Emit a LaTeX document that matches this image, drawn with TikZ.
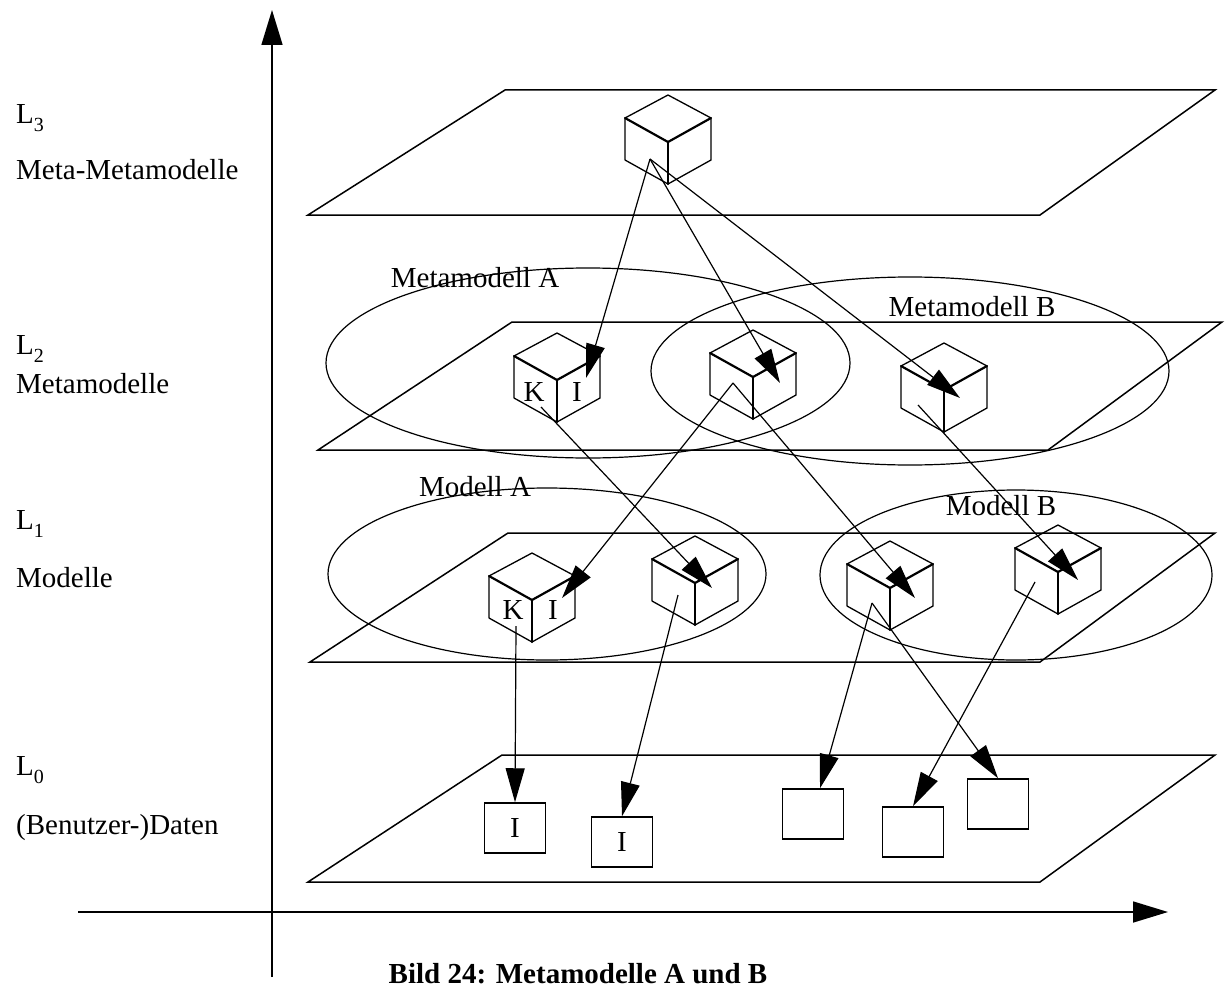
\documentclass[tikz,border=0pt]{standalone}
\usepackage{fontspec}
\setmainfont{Liberation Serif}
\usetikzlibrary{arrows.meta}
\newcommand\lsub[1]{L\raisebox{-8pt}{\fontsize{20}{22}\selectfont #1}}
\newcommand\drawcubeat[1]{%
  \draw[cubeedge, shift={(#1)}] (0,-47) -- (43,-24) -- (43,18) -- (0,42) -- (-43,18) -- (-43,-24) -- cycle;
  \draw[cubefront, shift={(#1)}] (-43,-24) -- (0,0) -- (43,-24);
  \draw[cubefront, shift={(#1)}] (0,0) -- (0,42);
}
\tikzset{
  plane/.style={draw, line width=1.5pt},
  oval/.style={draw, line width=1.2pt},
  cubeedge/.style={draw, line width=1.3pt, line join=round},
  cubefront/.style={draw, line width=2.2pt, line cap=round},
  conn/.style={line width=1.2pt, -{Triangle[length=34pt,width=19pt]}},
  axis/.style={line width=1.6pt, -{Triangle[length=35pt,width=21pt]}},
  lbl/.style={font=\fontsize{29}{33}\selectfont, inner sep=0pt},
  sidelbl/.style={lbl, anchor=west},
  databox/.style={draw, line width=1.5pt, minimum width=61pt, minimum height=50pt, inner sep=0pt, font=\fontsize{29}{33}\selectfont},
}
\begin{document}
\begin{tikzpicture}[x=1pt,y=-1pt]
\useasboundingbox (0,0) rectangle (1225,987);
\clip (0,0) rectangle (1225,987);
\fill[white] (0,0) rectangle (1225,987);

% axes
\coordinate (vbot) at (272,977);
\coordinate (vtop) at (272,10);
\coordinate (hleft) at (78,912);
\coordinate (hright) at (1168,912);
\draw[axis] (vbot) -- (vtop);
\draw[axis] (hleft) -- (hright);

% planes
\draw[plane] (308,215) -- (1040,215) -- (1215,90) -- (505,90) -- cycle;
\draw[plane] (318,450) -- (1048,450) -- (1222,322) -- (512,322) -- cycle;
\draw[plane] (310,662) -- (1040,662) -- (1215,533) -- (508,533) -- cycle;
\draw[plane] (308,882) -- (1040,882) -- (1215,755) -- (502,755) -- cycle;

% ellipses
\draw[oval] (588,363) ellipse [x radius=262, y radius=95];
\draw[oval] (910,371) ellipse [x radius=259, y radius=94];
\draw[oval] (547,574) ellipse [x radius=219, y radius=86];
\draw[oval] (1016,575) ellipse [x radius=196, y radius=85];

% cube positions (front vertex)
\coordinate (c3) at (668,142);
\coordinate (c2a) at (557,380);
\coordinate (c2m) at (753,377);
\coordinate (c2b) at (944,390);
\coordinate (c1a) at (532,600);
\coordinate (c1m) at (695,583);
\coordinate (c1b) at (890,588);
\coordinate (c1c) at (1058,572);
\drawcubeat{c3}
\drawcubeat{c2a}
\drawcubeat{c2m}
\drawcubeat{c2b}
\drawcubeat{c1a}
\drawcubeat{c1m}
\drawcubeat{c1b}
\drawcubeat{c1c}

% cube letters
\node[lbl] (k2) at (534,392) {K};
\node[lbl] (i2) at (577,392) {I};
\node[lbl] (k1) at (513,610) {K};
\node[lbl] (i1) at (553,610) {I};

% data boxes
\node[databox] (b1) at (515,828) {I};
\node[databox] (b2) at (622,842) {I};
\node[databox] (b3) at (813,814) {};
\node[databox] (b4) at (913,832) {};
\node[databox] (b5) at (998,804) {};

% connector end points
\coordinate (s3) at (650,159);
\coordinate (t2a) at (586,378);
\coordinate (t2m) at (780,383);
\coordinate (t2b) at (960,398);
\coordinate (s2a) at (541,407);
\coordinate (s2m) at (733,383);
\coordinate (s2b) at (918,405);
\coordinate (t1a) at (562,598);
\coordinate (t1m) at (712,588);
\coordinate (t1b) at (915,598);
\coordinate (t1c) at (1078,580);
\coordinate (s1a) at (516,626);
\coordinate (s1m) at (678,595);
\coordinate (s1b) at (872,603);
\coordinate (s1c) at (1035,582);

\draw[conn] (s3) -- (t2a);
\draw[conn] (s3) -- (t2m);
\draw[conn] (s3) -- (t2b);
\draw[conn] (s2a) -- (t1m);
\draw[conn] (s2m) -- (t1a);
\draw[conn] (s2m) -- (t1b);
\draw[conn] (s2b) -- (t1c);
\draw[conn] (s1a) -- (b1.north);
\draw[conn] (s1m) -- (b2.north);
\draw[conn] (s1b) -- ([xshift=7pt]b3.north);
\draw[conn] (s1b) -- (b5.north);
\draw[conn] (s1c) -- (b4.north);

% labels in ellipses
\node[lbl] (mma) at (475,278) {Metamodell A};
\node[lbl] (mmb) at (972,307) {Metamodell B};
\node[lbl] (ma) at (475,487) {Modell A};
\node[lbl] (mb) at (1001,506) {Modell B};

% side labels
\node[sidelbl] (l3) at (16,118) {\lsub{3}};
\node[sidelbl] (l3t) at (16,170) {Meta-Metamodelle};
\node[sidelbl] (l2) at (16,349) {\lsub{2}};
\node[sidelbl] (l2t) at (16,384) {Metamodelle};
\node[sidelbl] (l1) at (16,524) {\lsub{1}};
\node[sidelbl] (l1t) at (16,578) {Modelle};
\node[sidelbl] (l0) at (16,770) {\lsub{0}};
\node[sidelbl] (l0t) at (16,828) {(Benutzer-)Daten};

% caption
\node[lbl, font=\fontsize{29}{33}\selectfont\bfseries, anchor=base] (cap) at (578,983) {Bild 24: Metamodelle A und B};
\end{tikzpicture}
\end{document}
